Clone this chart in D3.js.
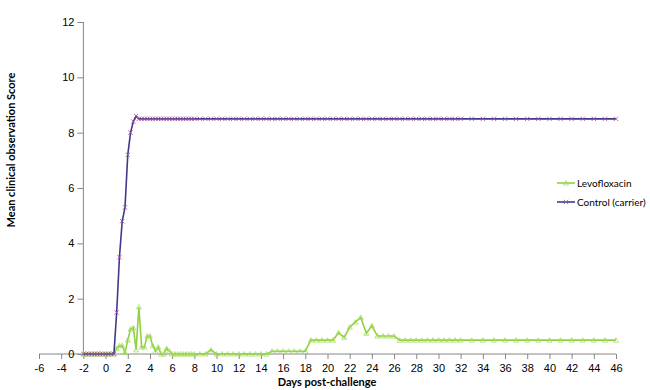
<!DOCTYPE html>
<html>
<head>
<meta charset="utf-8">
<script src="https://cdn.jsdelivr.net/npm/d3@7"></script>
<style>
  body { margin: 0; background: #fff; }
  svg { font-family: Lato, "Open Sans", sans-serif; }
  .axis path, .axis line { stroke: #868686; }
  .axis text { fill: #000; font-size: 11px; }
</style>
</head>
<body>
<svg id="chart" width="650" height="390"></svg>
<script>
// sampling days (same for both series)
const days = [
  -2, -1.75, -1.5, -1.25, -1, -0.75, -0.5, -0.25, 0, 0.25, 0.5, 0.75,
  1, 1.25, 1.5, 1.75, 2, 2.25, 2.5, 2.75, 3, 3.25, 3.5, 3.75, 4, 4.25, 4.5, 4.75,
  5, 5.25, 5.5, 5.75, 6, 6.25, 6.5, 6.75, 7, 7.25, 7.5, 7.75, 8,
  8.5, 9, 9.5, 10, 10.5, 11, 11.5, 12, 12.5, 13, 13.5, 14, 14.5, 15, 15.5, 16, 16.5,
  17, 17.5, 18, 18.5, 19, 19.5, 20, 20.5, 21, 21.5, 22, 22.5, 23, 23.5, 24, 24.5,
  25, 25.5, 26, 26.5, 27, 27.5, 28, 28.5, 29, 29.5, 30, 30.5, 31, 31.5, 32,
  33, 34, 35, 36, 37, 38, 39, 40, 41, 42, 43, 44, 45, 46
];

const levofloxacin = [
  0, 0, 0, 0, 0, 0, 0, 0, 0, 0, 0, 0,
  0.2, 0.3, 0.3, 0.05, 0.5, 0.9, 0.95, 0.15, 1.7, 0.25, 0.25, 0.65, 0.65, 0.3, 0.1, 0.25,
  0, 0, 0.2, 0.1, 0, 0, 0, 0, 0, 0, 0, 0, 0,
  0, 0, 0.15, 0, 0, 0, 0, 0, 0, 0, 0, 0, 0, 0.1, 0.1, 0.1, 0.1,
  0.1, 0.1, 0.1, 0.5, 0.5, 0.5, 0.5, 0.5, 0.77, 0.6, 0.97, 1.15, 1.32, 0.75, 1.02, 0.65,
  0.65, 0.65, 0.65, 0.5, 0.5, 0.5, 0.5, 0.5, 0.5, 0.5, 0.5, 0.5, 0.5, 0.5, 0.5,
  0.5, 0.5, 0.5, 0.5, 0.5, 0.5, 0.5, 0.5, 0.5, 0.5, 0.5, 0.5, 0.5, 0.5
];

const control = [
  0, 0, 0, 0, 0, 0, 0, 0, 0, 0, 0, 0,
  1.5, 3.5, 4.8, 5.3, 7.2, 8.0, 8.4, 8.6, 8.5, 8.5, 8.5, 8.5, 8.5, 8.5, 8.5, 8.5,
  8.5, 8.5, 8.5, 8.5, 8.5, 8.5, 8.5, 8.5, 8.5, 8.5, 8.5, 8.5, 8.5,
  8.5, 8.5, 8.5, 8.5, 8.5, 8.5, 8.5, 8.5, 8.5, 8.5, 8.5, 8.5, 8.5, 8.5, 8.5, 8.5, 8.5,
  8.5, 8.5, 8.5, 8.5, 8.5, 8.5, 8.5, 8.5, 8.5, 8.5, 8.5, 8.5, 8.5, 8.5, 8.5, 8.5,
  8.5, 8.5, 8.5, 8.5, 8.5, 8.5, 8.5, 8.5, 8.5, 8.5, 8.5, 8.5, 8.5, 8.5, 8.5,
  8.5, 8.5, 8.5, 8.5, 8.5, 8.5, 8.5, 8.5, 8.5, 8.5, 8.5, 8.5, 8.5, 8.5
];

const xTicks = [-6, -4, -2, 0, 2, 4, 6, 8, 10, 12, 14, 16, 18, 20, 22, 24, 26, 28, 30, 32, 34, 36, 38, 40, 42, 44, 46];
const yTicks = [0, 2, 4, 6, 8, 10, 12];

const series = [
  {name: "Levofloxacin", values: levofloxacin, line: "#8fd13f", marker: "#a6dc63", shape: "tri"},
  {name: "Control (carrier)", values: control, line: "#3f3a8c", marker: "#a0509c", shape: "x"}
];

const svg = d3.select("#chart");

const x = d3.scaleLinear().domain([-6, 46]).range([39, 616]);
const y = d3.scaleLinear().domain([0, 12]).range([354, 22]);

// x axis
svg.append("g")
   .attr("class", "axis")
   .attr("transform", `translate(0,${y(0)})`)
   .call(d3.axisBottom(x).tickValues(xTicks).tickFormat(d => String(d)).tickSize(5).tickPadding(5))
   .call(g => g.select(".domain").attr("d", `M${x(-6)},0H${x(46)}`));

// y axis crosses at day -2
svg.append("g")
   .attr("class", "axis")
   .attr("transform", `translate(${x(-2)},0)`)
   .call(d3.axisLeft(y).tickValues(yTicks).tickSize(6).tickPadding(3))
   .call(g => g.select(".domain").attr("d", `M0,${y(0)}V${y(12)}`));

// axis titles
svg.append("text")
   .attr("x", 327).attr("y", 386)
   .attr("text-anchor", "middle")
   .style("font-size", "11px").style("font-weight", "bold")
   .text("Days post-challenge");

svg.append("text")
   .attr("transform", "translate(15,150) rotate(-90)")
   .attr("text-anchor", "middle")
   .style("font-size", "11px").style("font-weight", "bold")
   .text("Mean clinical observation Score");

const line = d3.line().x((d, i) => x(days[i])).y(d => y(d));

series.forEach(s => {
  svg.append("path")
     .datum(s.values)
     .attr("fill", "none")
     .attr("stroke", s.line)
     .attr("stroke-width", 1.6)
     .attr("d", line);

  const pts = svg.append("g").selectAll("path")
     .data(s.values)
     .enter().append("path")
     .attr("transform", (d, i) => `translate(${x(days[i])},${y(d)})`)
     .attr("fill", "none")
     .attr("stroke", s.marker)
     .attr("stroke-width", 0.8);
  if (s.shape === "tri") pts.attr("d", "M0,-2.5L2.5,2L-2.5,2Z");
  else pts.attr("d", "M-2.2,-2.2L2.2,2.2M-2.2,2.2L2.2,-2.2");
});

// legend
const legend = svg.append("g");
series.forEach((s, i) => {
  const ly = 183 + i * 19;
  legend.append("line")
     .attr("x1", 557).attr("x2", 575).attr("y1", ly).attr("y2", ly)
     .attr("stroke", s.line).attr("stroke-width", 1.6);
  legend.append("path")
     .attr("transform", `translate(566,${ly})`)
     .attr("d", s.shape === "tri" ? "M0,-2.5L2.5,2L-2.5,2Z" : "M-2.2,-2.2L2.2,2.2M-2.2,2.2L2.2,-2.2")
     .attr("fill", "none").attr("stroke", s.marker).attr("stroke-width", 0.8);
  legend.append("text")
     .attr("x", 577).attr("y", ly + 4)
     .style("font-size", "10px")
     .text(s.name);
});
</script>
</body>
</html>
